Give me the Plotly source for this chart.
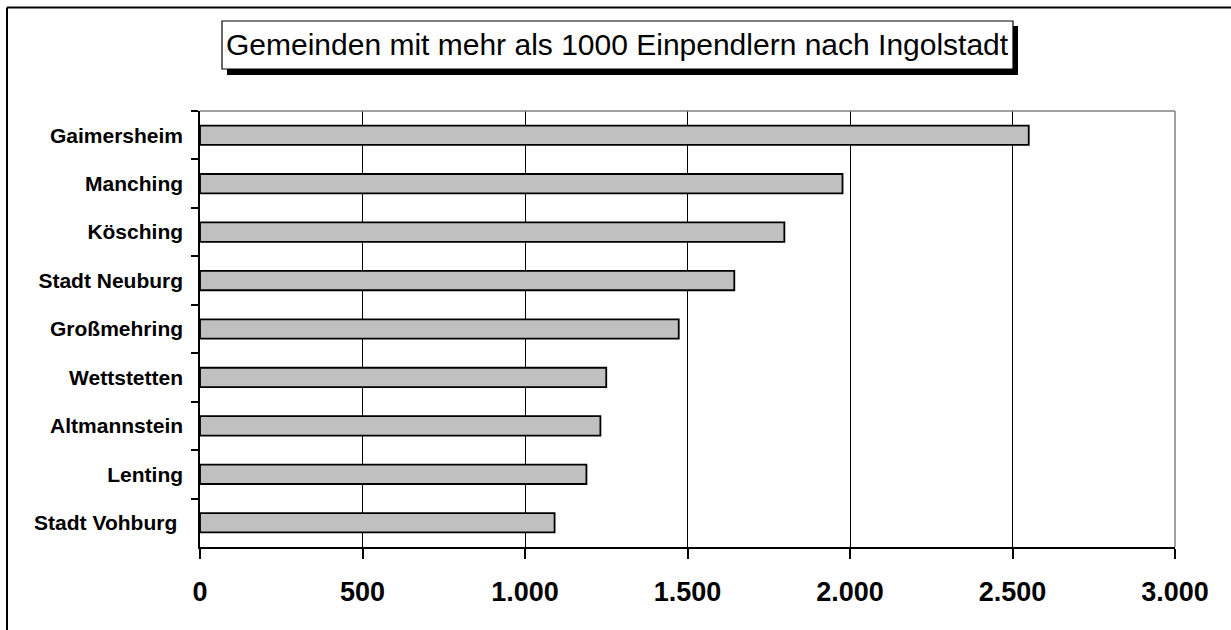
import plotly.graph_objects as go

categories = ["Gaimersheim", "Manching", "Kösching", "Stadt Neuburg", "Großmehring",
              "Wettstetten", "Altmannstein", "Lenting", "Stadt Vohburg\u00a0"]
values = [2550, 1977, 1798, 1644, 1473, 1250, 1232, 1189, 1091]
x_ticks = [0, 500, 1000, 1500, 2000, 2500, 3000]
title_text = "Gemeinden mit mehr als 1000 Einpendlern nach Ingolstadt"

W, H = 1231, 630
L, R, T, B = 200, 1175, 111, 547  # plot area in pixels


def px(x):
    return (x - L) / (R - L)


def py(y):
    return (B - y) / (B - T)


fig = go.Figure(go.Bar(
    x=values, y=categories, orientation="h",
    marker=dict(color="#C0C0C0", line=dict(color="black", width=1.8)),
    width=0.4,
))

font = "Liberation Sans, Arial, sans-serif"

fig.update_layout(
    width=W, height=H,
    margin=dict(l=L, r=W - R, t=T, b=H - B, pad=0),
    paper_bgcolor="white", plot_bgcolor="white",
    separators=",.",
    showlegend=False,
    font=dict(family=font, color="black"),
    xaxis=dict(
        range=[0, 3000], tickvals=x_ticks, tickformat=",d",
        showgrid=True, gridcolor="black", gridwidth=1,
        showline=True, linecolor="black", linewidth=1.5,
        ticks="outside", ticklen=10, tickcolor="black", tickwidth=1.5,
        tickfont=dict(size=27, family=font, weight="bold", color="black"),
        ticklabelstandoff=10,
        zeroline=False, fixedrange=True,
    ),
    yaxis=dict(
        categoryorder="array", categoryarray=categories, autorange="reversed",
        showline=True, linecolor="black", linewidth=1.5,
        ticks="outside", ticklen=7, tickcolor="black", tickwidth=1.5,
        tickson="boundaries",
        tickfont=dict(size=21, family=font, weight="bold", color="black"),
        ticklabelstandoff=11,
        showgrid=False, zeroline=False, fixedrange=True,
    ),
)

shapes = []
# gray plot border top & right
shapes.append(dict(type="line", xref="paper", yref="paper", x0=0, x1=1, y0=1, y1=1,
                   line=dict(color="#808080", width=1.5)))
shapes.append(dict(type="line", xref="paper", yref="paper", x0=1, x1=1, y0=0, y1=1,
                   line=dict(color="#808080", width=1.5)))
# outer chart border (left & top visible)
shapes.append(dict(type="line", xref="paper", yref="paper", x0=px(7), x1=px(1240),
                   y0=py(7.5), y1=py(7.5), line=dict(color="black", width=2)))
shapes.append(dict(type="line", xref="paper", yref="paper", x0=px(7), x1=px(7),
                   y0=py(7.5), y1=py(640), line=dict(color="black", width=2)))
# title shadow
shapes.append(dict(type="rect", xref="paper", yref="paper",
                   x0=px(227), x1=px(1018), y0=py(75), y1=py(26),
                   fillcolor="black", line=dict(width=0)))
# title box
shapes.append(dict(type="rect", xref="paper", yref="paper",
                   x0=px(222), x1=px(1013), y0=py(69), y1=py(21),
                   fillcolor="white", line=dict(color="black", width=1.2)))
fig.update_layout(shapes=shapes)

fig.add_annotation(
    text=title_text, xref="paper", yref="paper",
    x=px(617.5), y=py(45), xanchor="center", yanchor="middle",
    showarrow=False, font=dict(size=30, family=font, color="black"),
)

fig.write_html("out.html", config={"displayModeBar": False},
               post_script="document.body.style.margin='0';document.body.style.overflow='hidden';")
